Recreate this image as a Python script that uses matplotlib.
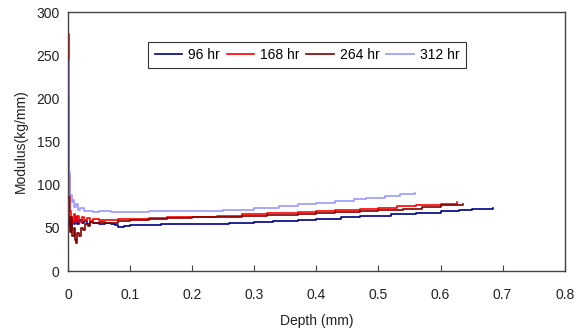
import matplotlib.pyplot as plt

plt.rcParams['font.family'] = ['Liberation Sans', 'DejaVu Sans']

# 96 hr
d96 = [0, 0.001, 0.003, 0.005, 0.007, 0.009, 0.012, 0.015, 0.018, 0.022, 0.026, 0.03, 0.035, 0.04,
       0.05, 0.06, 0.07, 0.075, 0.08, 0.09, 0.1, 0.12, 0.15, 0.18, 0.2, 0.23, 0.26, 0.3, 0.33, 0.37,
       0.4, 0.44, 0.47, 0.52, 0.56, 0.6, 0.63, 0.65, 0.685]
m96 = [60, 52, 62, 48, 58, 55, 63, 54, 59, 56, 58, 55, 57, 56,
       55, 56, 55, 53, 51, 52, 53, 53, 54, 54, 55, 55, 56, 57, 58, 59,
       60, 62, 64, 66, 67, 70, 71, 72, 73]

# 168 hr
d168 = [0, 0.001, 0.002, 0.003, 0.005, 0.007, 0.009, 0.012, 0.015, 0.018, 0.022, 0.026, 0.03, 0.035,
        0.04, 0.05, 0.06, 0.08, 0.1, 0.13, 0.16, 0.2, 0.24, 0.28, 0.32, 0.37, 0.4, 0.43, 0.47, 0.5,
        0.53, 0.56, 0.6, 0.626]
m168 = [275, 180, 110, 70, 62, 56, 66, 58, 64, 57, 62, 59, 61, 58,
        60, 59, 59, 60, 60, 61, 62, 63, 64, 66, 67, 68, 70, 71, 72, 73,
        75, 76, 78, 80]

# 264 hr
d264 = [0, 0.001, 0.002, 0.003, 0.005, 0.007, 0.009, 0.011, 0.013, 0.015, 0.018, 0.021, 0.024, 0.028,
        0.032, 0.036, 0.04, 0.05, 0.06, 0.08, 0.1, 0.13, 0.16, 0.2, 0.24, 0.28, 0.32, 0.37, 0.4, 0.43,
        0.47, 0.5, 0.54, 0.57, 0.6, 0.636]
m264 = [200, 120, 60, 45, 62, 40, 50, 36, 32, 44, 40, 50, 48, 55,
        52, 57, 56, 57, 56, 58, 59, 60, 61, 62, 63, 64, 65, 66, 67, 68,
        70, 71, 72, 74, 76, 78]

# 312 hr
d312 = [0, 0.001, 0.002, 0.003, 0.004, 0.006, 0.008, 0.01, 0.013, 0.016, 0.02, 0.025, 0.03, 0.04,
        0.05, 0.07, 0.1, 0.13, 0.16, 0.2, 0.25, 0.3, 0.34, 0.37, 0.4, 0.43, 0.46, 0.48, 0.51, 0.535,
        0.559]
m312 = [245, 160, 115, 100, 88, 80, 82, 74, 78, 71, 73, 69, 70, 68,
        69, 68, 68, 69, 69, 70, 71, 73, 75, 78, 79, 81, 83, 85, 87, 89,
        90]

labels = ['96 hr', '168 hr', '264 hr', '312 hr']
colors = ['#000080', '#FF0000', '#800000', '#9999FF']

fig = plt.figure(figsize=(5.83, 3.35), dpi=100)
ax = fig.add_axes([0.1166, 0.191, 0.852, 0.773])

for d, m, lab, c in zip([d96, d168, d264, d312], [m96, m168, m264, m312], labels, colors):
    ax.plot(d, m, color=c, lw=1.2, label=lab, drawstyle='steps-post')

ax.set_xlim(0, 0.8)
ax.set_ylim(0, 300)
ax.set_xticks([0, 0.1, 0.2, 0.3, 0.4, 0.5, 0.6, 0.7, 0.8])
ax.set_xticklabels(['0', '0.1', '0.2', '0.3', '0.4', '0.5', '0.6', '0.7', '0.8'])
ax.set_yticks(range(0, 301, 50))
ax.tick_params(axis='x', direction='in', length=4, labelsize=10, pad=12, color='#444444', labelcolor='#222222')
ax.tick_params(axis='y', length=0, labelsize=10, pad=6, labelcolor='#222222')
for s in ax.spines.values():
    s.set_color('#444444')
    s.set_linewidth(1.0)

ax.set_xlabel('Depth (mm)', fontsize=10, labelpad=9, color='#222222')
ax.set_ylabel('Modulus(kg/mm)', fontsize=10, labelpad=6, color='#222222')

leg = ax.legend(loc='center', bbox_to_anchor=(0.481, 0.834), ncol=4, frameon=True, fancybox=False,
                edgecolor='black', fontsize=10, handlelength=2.0, handletextpad=0.4,
                columnspacing=0.5, borderpad=0.45)
leg.get_frame().set_linewidth(0.8)

fig.savefig('out.png', dpi=100)
